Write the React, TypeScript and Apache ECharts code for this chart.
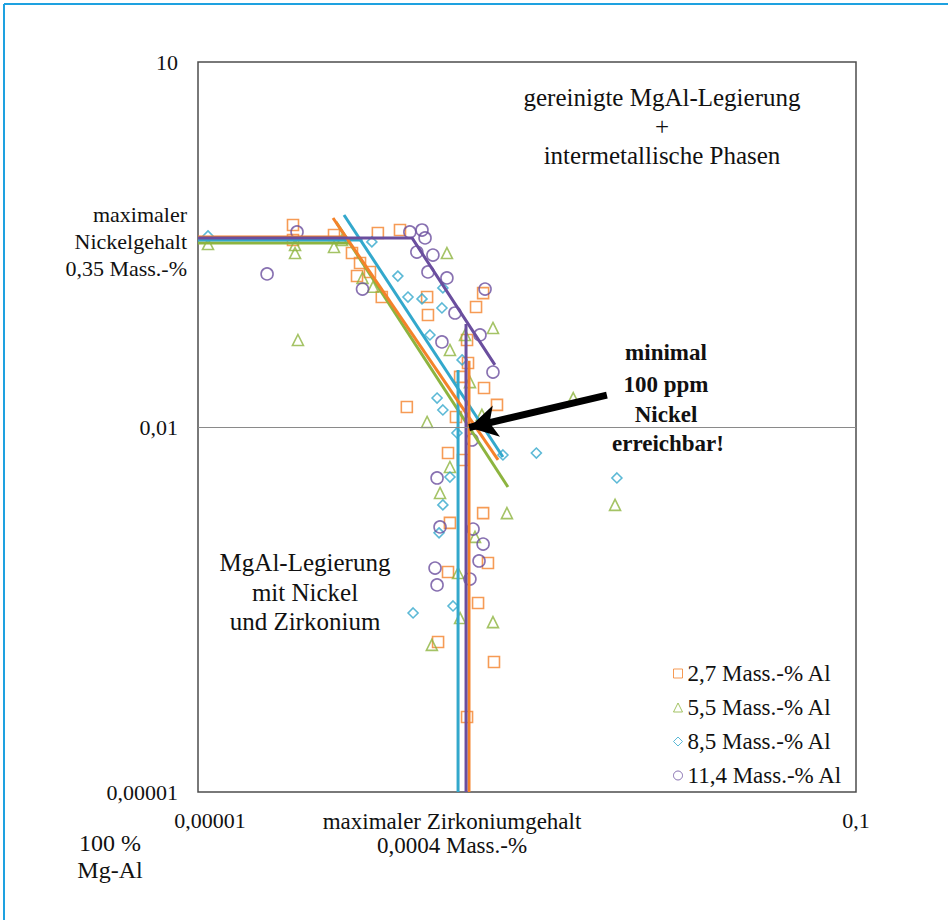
import React, { useEffect, useRef } from 'react';
import * as echarts from 'echarts';

const seriesNames = ['2,7 Mass.-% Al', '5,5 Mass.-% Al', '8,5 Mass.-% Al', '11,4 Mass.-% Al'];
const colors = ['#F4822A', '#8DB43F', '#33A8CC', '#6A4E9E'];

// Zr (Mass.-%), Ni (Mass.-%)
const al27: [number, number][] = [
  [3.78e-5, 0.457], [3.78e-5, 0.344], [6.71e-5, 0.379], [1.24e-4, 0.393], [1.69e-4, 0.416],
  [8.63e-5, 0.269], [9.66e-5, 0.223], [9.26e-5, 0.174], [1.11e-4, 0.188], [1.31e-4, 0.117],
  [2.47e-4, 0.117], [2.5e-4, 0.0833], [5.41e-4, 0.126], [4.9e-4, 0.0969], [4.32e-4, 0.0519],
  [4.38e-4, 0.0336], [1.86e-4, 0.0146], [5.48e-4, 0.0209], [6.57e-4, 0.0152], [3.92e-4, 0.0258],
  [3.7e-4, 0.0121], [3.31e-4, 0.00611], [4.08e-4, 0.00536], [5.41e-4, 0.00196], [3.4e-4, 0.00163],
  [5.79e-4, 7.62e-4], [3.31e-4, 6.43e-4], [5.04e-4, 3.58e-4], [2.88e-4, 1.71e-4], [6.3e-4, 1.17e-4],
  [4.32e-4, 4.13e-5],
];
const al55: [number, number][] = [
  [1.15e-5, 0.319], [3.89e-5, 0.313], [3.89e-5, 0.269], [4.05e-5, 0.0519], [6.71e-5, 0.302],
  [7.5e-5, 0.344], [1.0e-4, 0.168], [1.16e-4, 0.142], [3.26e-4, 0.269], [6.21e-4, 0.0652],
  [4.2e-4, 0.0571], [3.4e-4, 0.043], [4.5e-4, 0.0234], [2.47e-4, 0.011], [5.32e-4, 0.0126],
  [3.4e-4, 0.00469], [2.96e-4, 0.00287], [1.91e-3, 0.0173], [7.55e-4, 0.00196], [3.43e-3, 0.00229],
  [4.83e-4, 0.00125], [3.81e-4, 6.31e-4], [3.92e-4, 2.69e-4], [6.21e-4, 2.49e-4], [2.64e-4, 1.62e-4],
];
const al85: [number, number][] = [
  [1.15e-5, 0.372], [1.14e-4, 0.332], [1.64e-4, 0.174], [1.89e-4, 0.117], [2.3e-4, 0.113],
  [3.04e-4, 0.0951], [3.08e-4, 0.139], [2.57e-4, 0.0571], [4.03e-4, 0.0356], [2.84e-4, 0.0173],
  [3.08e-4, 0.0138], [3.75e-4, 0.00893], [7.14e-4, 0.00589], [3.4e-4, 0.00388], [3.08e-4, 0.00229],
  [1.14e-3, 0.00611], [3.52e-3, 0.00381], [2.92e-4, 0.00135], [3.55e-4, 3.38e-4], [2.03e-4, 2.96e-4],
];
const al114: [number, number][] = [
  [2.63e-5, 0.181], [4.0e-5, 0.401], [1.0e-4, 0.136], [1.94e-4, 0.401], [2.3e-4, 0.416],
  [2.4e-4, 0.358], [2.14e-4, 0.274], [2.68e-4, 0.259], [2.5e-4, 0.188], [3.26e-4, 0.168],
  [5.56e-4, 0.136], [3.65e-4, 0.0865], [3.04e-4, 0.05], [5.18e-4, 0.0571], [6.21e-4, 0.0283],
  [4.63e-4, 0.00782], [2.84e-4, 0.00381], [2.96e-4, 0.00151], [4.7e-4, 0.00145], [5.41e-4, 0.00109],
  [5.11e-4, 7.92e-4], [2.76e-4, 6.93e-4], [4.5e-4, 5.63e-4], [2.84e-4, 5.03e-4],
];
const pointSets = [al27, al55, al85, al114];
const symbols = ['rect', 'triangle', 'diamond', 'circle'];
const symbolSizes = [11, 11, 10, 12];

// fitted model lines: [plateau, slope, Zr-limit] segments per alloy
const fit27: [number, number][][] = [
  [[1e-5, 0.365], [7.94e-5, 0.365]],
  [[6.62e-5, 0.522], [6.67e-4, 0.00536]],
  [[4.44e-4, 0.035], [4.44e-4, 1e-5]],
];
const fit55: [number, number][][] = [
  [[1e-5, 0.325], [8.36e-5, 0.325]],
  [[6.9e-5, 0.484], [7.66e-4, 0.00321]],
];
const fit85: [number, number][][] = [
  [[1e-5, 0.344], [1.0e-4, 0.344]],
  [[7.72e-5, 0.553], [7.14e-4, 0.00567]],
  [[3.81e-4, 0.0294], [3.81e-4, 1e-5]],
];
const fit114: [number, number][][] = [
  [[1e-5, 0.358], [2.0e-4, 0.358], [6.38e-4, 0.0324]],
  [[4.26e-4, 0.0703], [4.26e-4, 1e-5]],
];
const fitSets = [fit27, fit55, fit85, fit114];

const limitNi = 0.01;
const arrowTail: [number, number] = [3.06e-3, 0.0183];
const arrowHead: [number, number] = [4.45e-4, 0.0099];

const serif = "'Liberation Serif', 'Times New Roman', serif";

export default function App() {
  const ref = useRef<HTMLDivElement>(null);
  useEffect(() => {
    if (!ref.current) return;
    const chart = echarts.init(ref.current, undefined, { renderer: 'svg' });
    const series: any[] = [];
    pointSets.forEach((pts, i) => {
      series.push({
        name: seriesNames[i],
        type: 'scatter',
        data: pts,
        symbol: symbols[i],
        symbolSize: symbolSizes[i],
        itemStyle: { color: 'rgba(255,255,255,0)', borderColor: colors[i], borderWidth: 1.6 },
        z: 2,
      });
    });
    const order = [1, 2, 0, 3];
    order.forEach((i) => {
      fitSets[i].forEach((seg, j) => {
        series.push({
          name: 'fit' + i + '_' + j,
          type: 'line',
          data: seg,
          symbol: 'none',
          lineStyle: { color: colors[i], width: 3 },
          z: 3,
        });
      });
    });
    series.push({
      name: 'limit',
      type: 'line',
      data: [],
      symbol: 'none',
      z: 1,
      markLine: {
        silent: true,
        animation: false,
        symbol: ['none', 'none'],
        label: { show: false },
        lineStyle: { color: '#8a8a8a', width: 1, type: 'solid' },
        data: [{ yAxis: limitNi }],
      },
    });
    series.push({
      name: 'arrow',
      type: 'line',
      data: [],
      symbol: 'none',
      z: 5,
      markLine: {
        silent: true,
        animation: false,
        symbol: ['none', 'arrow'],
        symbolSize: [24, 28],
        label: { show: false },
        lineStyle: { color: '#000', width: 7, type: 'solid' },
        data: [[{ coord: arrowTail }, { coord: arrowHead }]],
      },
    });

    const txt = (text: string, x: number, y: number, size = 25, extra: any = {}) => ({
      type: 'text',
      x,
      y,
      style: {
        text,
        fill: '#111',
        font: `${size}px ${serif}`,
        textAlign: 'center',
        textVerticalAlign: 'middle',
        ...extra,
      },
      z: 10,
    });
    const bold = (text: string, x: number, y: number) =>
      txt(text, x, y, 23, { font: `bold 23px ${serif}` });

    chart.setOption({
      animation: false,
      backgroundColor: '#fff',
      grid: {
        left: 198, top: 62, width: 658, height: 730,
        show: true, borderColor: '#4d4d4d', borderWidth: 1.5,
        containLabel: false, outerBoundsMode: 'none',
      },
      xAxis: {
        type: 'log', logBase: 10, min: 1e-5, max: 0.1, splitNumber: 4,
        axisLine: { show: false }, axisTick: { show: false }, splitLine: { show: false },
        axisLabel: {
          margin: 17, color: '#111', fontSize: 22, fontFamily: serif,
          formatter: (v: number) => {
            const e = Math.round(Math.log10(v));
            return e === -5 ? '{a|0,00001}' : e === -1 ? '0,1' : '';
          },
          rich: { a: { fontSize: 22, fontFamily: serif, color: '#111', padding: [0, 0, 0, 24] } },
        },
      },
      yAxis: {
        type: 'log', logBase: 10, min: 1e-5, max: 10, splitNumber: 6,
        axisLine: { show: false }, axisTick: { show: false }, splitLine: { show: false },
        axisLabel: {
          margin: 20, color: '#111', fontSize: 22, fontFamily: serif,
          formatter: (v: number) => {
            const e = Math.round(Math.log10(v));
            return e === 1 ? '10' : e === -2 ? '0,01' : e === -5 ? '0,00001' : '';
          },
        },
      },
      legend: {
        orient: 'vertical', left: 668, top: 657,
        itemWidth: 9, itemHeight: 9, itemGap: 11,
        textStyle: { fontSize: 23, fontFamily: serif, color: '#111', lineHeight: 22 },
        data: seriesNames.map((n, i) => ({
          name: n,
          icon: symbols[i],
          itemStyle: { color: 'rgba(255,255,255,0)', borderColor: colors[i], borderWidth: 1 },
        })),
      },
      graphic: [
        { type: 'line', shape: { x1: 4, y1: 4, x2: 948, y2: 4 }, style: { stroke: '#1ea1e0', lineWidth: 2 } },
        { type: 'line', shape: { x1: 4, y1: 4, x2: 4, y2: 920 }, style: { stroke: '#1ea1e0', lineWidth: 2 } },
        txt('gereinigte MgAl-Legierung', 662, 97),
        txt('+', 662, 126),
        txt('intermetallische Phasen', 662, 155),
        txt('maximaler', 187, 214, 22, { textAlign: 'right' }),
        txt('Nickelgehalt', 187, 241, 22, { textAlign: 'right' }),
        txt('0,35 Mass.-%', 187, 268, 22, { textAlign: 'right' }),
        bold('minimal', 666, 352),
        bold('100 ppm', 666, 384),
        bold('Nickel', 666, 414),
        bold('erreichbar!', 668, 443),
        txt('MgAl-Legierung', 305, 562),
        txt('mit Nickel', 305, 592),
        txt('und Zirkonium', 305, 621),
        txt('maximaler Zirkoniumgehalt', 452, 821, 23),
        txt('0,0004 Mass.-%', 452, 845, 23),
        txt('100 %', 110, 843, 24),
        txt('Mg-Al', 110, 870, 24),
      ],
      series,
    });
    return () => chart.dispose();
  }, []);
  return <div ref={ref} style={{ position: 'fixed', left: 0, top: 0, width: 948, height: 920 }} />;
}
